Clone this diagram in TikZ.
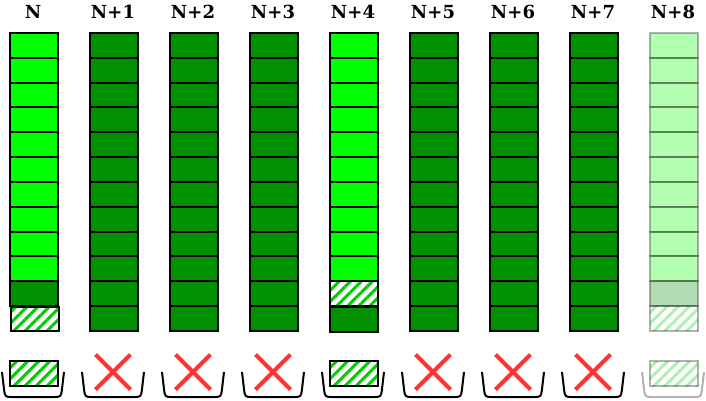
\documentclass[tikz,border=0pt]{standalone}
\usepackage{fontspec}
\setmainfont{DejaVu Serif}
\usetikzlibrary{patterns.meta,shapes.misc}
\definecolor{litegreen}{HTML}{00FF00}
\definecolor{darkgreen}{HTML}{009000}
\definecolor{hatchgreen}{HTML}{00CC00}
\definecolor{crossred}{HTML}{FF3333}

\begin{document}
\begin{tikzpicture}[x=1pt,y=-1pt,
  cell/.style={draw=black, line width=2pt, minimum width=48pt, minimum height=24.83pt, inner sep=0pt, anchor=north west},
  hatched/.style={pattern={Lines[angle=45,distance=7.8pt,line width=3pt]}, pattern color=hatchgreen},
  colhead/.style={font=\fontsize{18}{18}\selectfont\bfseries, inner sep=0pt},
  basket/.style={draw=black, line width=2pt},
  crossmark/.style={cross out, draw=crossred, line width=4pt, minimum width=31pt, minimum height=31pt, inner sep=0pt}]
\fill[white] (0,0) rectangle (706,400);
\useasboundingbox (0,0) rectangle (706,400);
% Column labels
\foreach \i/\lab in {0/N,1/N+1,2/N+2,3/N+3,4/N+4,5/N+5,6/N+6,7/N+7,8/N+8}
  \node[colhead] (head\i) at (33+80*\i,12) {\lab};
% Full columns
\foreach \i in {1,2,3,5,6,7}{
  \foreach \r in {0,...,11}
    \node[cell, fill=darkgreen] (c\i-\r) at (9+80*\i,32+24.83*\r) {};
}
% Columns N and N+4
\foreach \i in {0,4}{
  \foreach \r in {0,...,9}
    \node[cell, fill=litegreen] (c\i-\r) at (9+80*\i,32+24.83*\r) {};
}
\node[cell, fill=darkgreen] (c0-10) at (9,32+24.83*10) {};
\node[cell, hatched] (c0-11) at (9,32+24.83*11) {};
\node[cell, hatched] (c4-10) at (329,32+24.83*10) {};
\node[cell, fill=darkgreen] (c4-11) at (329,32+24.83*11+1) {};
% Column N+8 (faded)
\begin{scope}[opacity=0.3]
  \foreach \r in {0,...,9}
    \node[cell, fill=litegreen] (c8-\r) at (649,32+24.83*\r) {};
  \node[cell, fill=darkgreen] (c8-10) at (649,32+24.83*10) {};
  \node[cell, hatched] (c8-11) at (649,32+24.83*11) {};
\end{scope}
% Baskets
\foreach \i in {0,...,8}{
  \pgfmathsetmacro\x{33+80*\i}
  \ifnum\i=8
    \draw[basket, opacity=0.3] (\x-31,372) -- (\x-29,389) .. controls (\x-28,397) .. (\x-20,397) -- (\x+20,397) .. controls (\x+28,397) .. (\x+29,389) -- (\x+31,372);
  \else
    \draw[basket] (\x-31,372) -- (\x-29,389) .. controls (\x-28,397) .. (\x-20,397) -- (\x+20,397) .. controls (\x+28,397) .. (\x+29,389) -- (\x+31,372);
  \fi
}
% Basket contents
\node[cell, hatched, minimum height=25pt] (bin0) at (9,360) {};
\node[cell, hatched, minimum height=25pt] (bin4) at (329,360) {};
\node[cell, hatched, minimum height=25pt, opacity=0.3] (bin8) at (649,360) {};
\foreach \i in {1,2,3,5,6,7}
  \node[crossmark] (miss\i) at (33+80*\i,372) {};
\end{tikzpicture}
\end{document}
